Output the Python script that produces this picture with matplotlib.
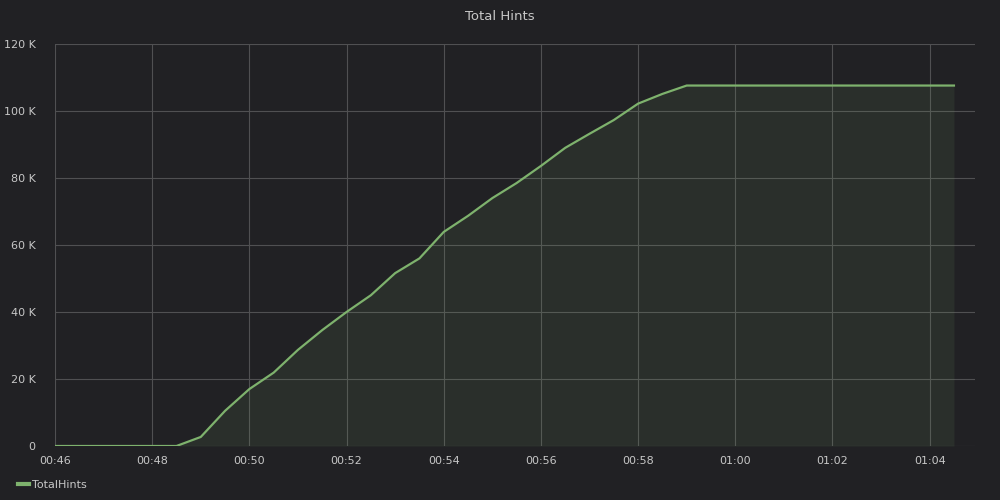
import matplotlib
matplotlib.use("Agg")
import matplotlib.pyplot as plt
import matplotlib.dates as mdates
import matplotlib.ticker as mticker
import numpy as np
import pandas as pd

# samples every 30 s from 00:46:00 to 01:04:30
times = pd.date_range("2024-01-01 00:46:00", "2024-01-01 01:04:30", freq="30s")
total_hints = [
    0, 0, 0, 0, 0, 0,                 # 00:46 - 00:48:30
    2.7, 10.5, 17.0, 21.9, 28.7, 34.6,  # 00:49 - 00:51:30
    40.0, 45.0, 51.6, 56.0, 63.9, 68.7,  # 00:52 - 00:54:30
    74.0, 78.5, 83.6, 89.0, 93.2, 97.3,  # 00:55 - 00:57:30
    102.2, 105.1, 107.6,               # 00:58 - 00:59
] + [107.6] * 11                      # 00:59:30 - 01:04:30
total_hints = np.array(total_hints) * 1000

bg = "#212124"
line_color = "#7eb26d"
text_color = "#c7c7c7"
grid_color = "#505052"

fig = plt.figure(figsize=(10, 5), dpi=100, facecolor=bg)
ax = fig.add_axes([0.055, 0.108, 0.92, 0.804], facecolor=bg)

ax.plot(times, total_hints, color=line_color, lw=1.6, label="TotalHints")
ax.fill_between(times, total_hints, 0, color=line_color, alpha=0.1, lw=0)

ax.set_xlim(pd.Timestamp("2024-01-01 00:46:00"), pd.Timestamp("2024-01-01 01:04:56"))
ax.set_ylim(0, 120000)
ax.xaxis.set_major_locator(mdates.MinuteLocator(byminute=range(0, 60, 2)))
ax.xaxis.set_major_formatter(mdates.DateFormatter("%H:%M"))
ax.yaxis.set_major_locator(mticker.MultipleLocator(20000))
ax.yaxis.set_major_formatter(mticker.FuncFormatter(lambda v, p: "0" if v == 0 else f"{v/1000:.0f} K"))

ax.grid(True, color=grid_color, lw=0.8)
ax.set_axisbelow(True)
for s in ax.spines.values():
    s.set_visible(False)
ax.tick_params(colors=text_color, labelsize=8, length=0, pad=7)
ax.tick_params(axis="y", pad=14)

fig.text(0.5, 0.968, "Total Hints", ha="center", va="center", color=text_color, fontsize=9.5)

leg = fig.legend(loc="lower left", bbox_to_anchor=(0.008, 0.0), frameon=False,
                 fontsize=8, handlelength=1.0, handletextpad=0.3)
for t in leg.get_texts():
    t.set_color(text_color)
for h in leg.legend_handles:
    h.set_linewidth(3)

fig.savefig("out.png", dpi=100, facecolor=bg)
